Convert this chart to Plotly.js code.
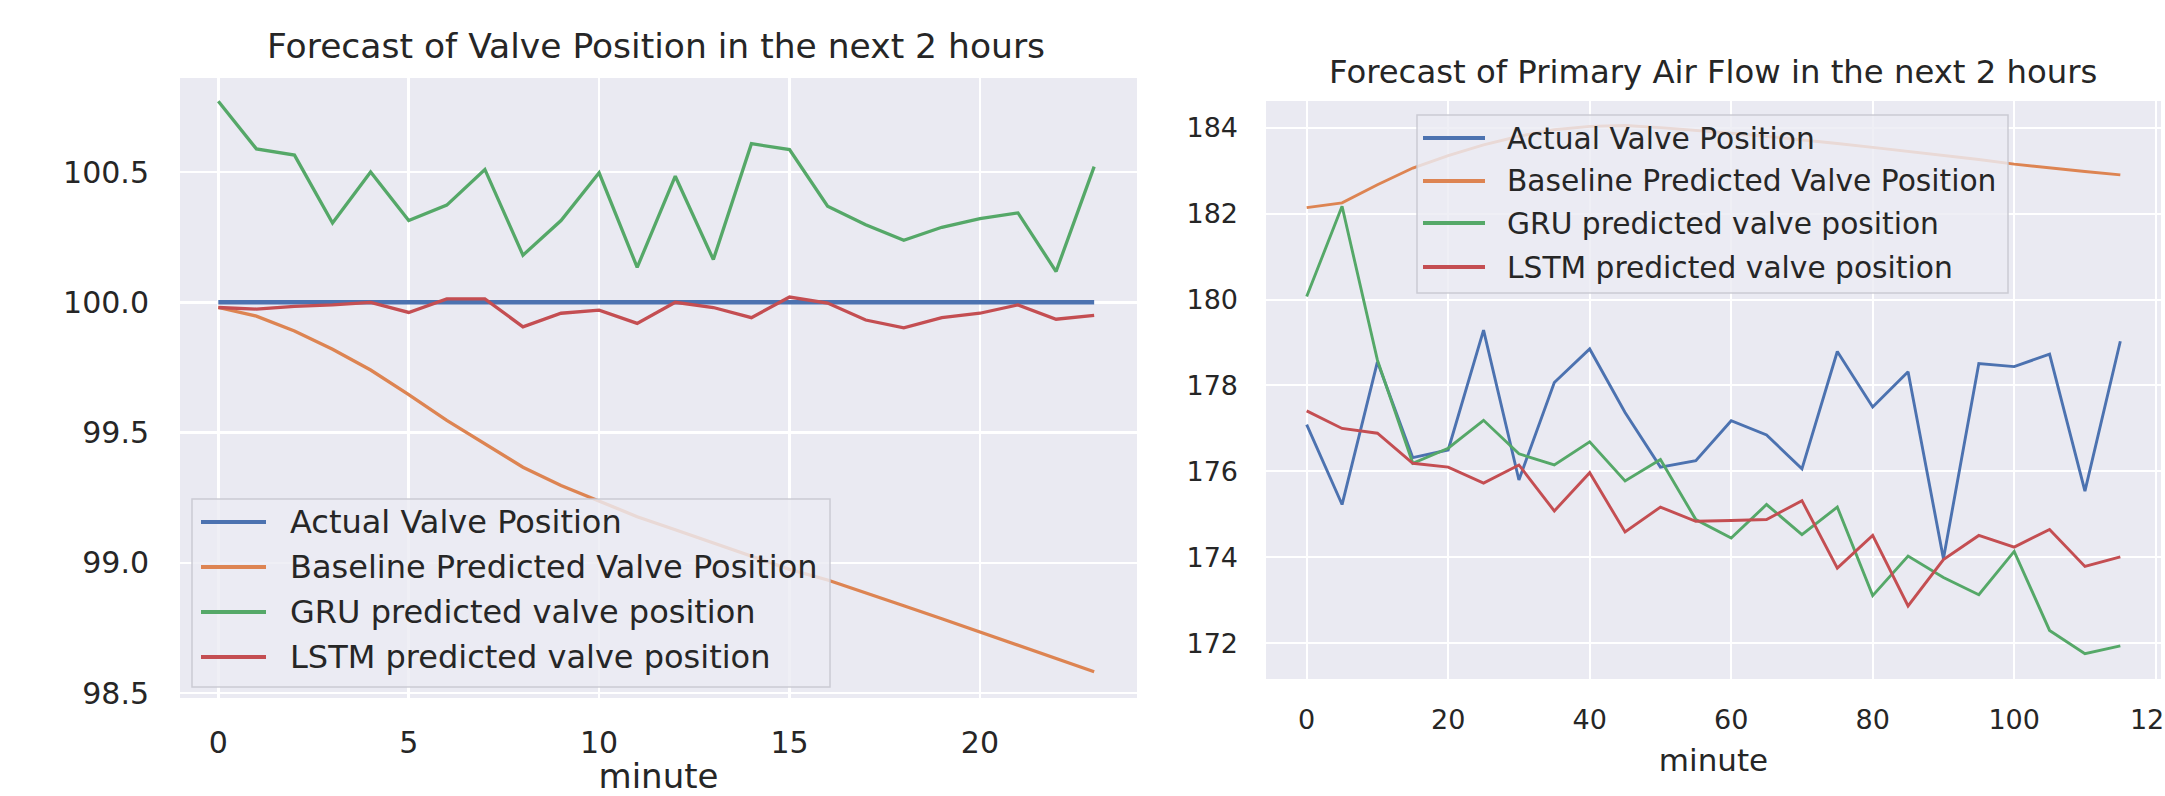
<!DOCTYPE html>
<html>
<head>
<meta charset="utf-8">
<script src="https://cdn.plot.ly/plotly-3.0.1.min.js"></script>
<style>
  html, body { margin: 0; padding: 0; background: #ffffff; }
  #chart { width: 2165px; height: 796px; }
</style>
</head>
<body>
<div id="chart"></div>
<script>
// ---------------- DATA ----------------
const seriesNames = [
  "Actual Valve Position",
  "Baseline Predicted Valve Position",
  "GRU predicted valve position",
  "LSTM predicted valve position"
];
const seriesColors = ["#4c72b0", "#dd8452", "#55a868", "#c44e52"];

const titleValve = "Forecast of Valve Position in the next 2 hours";
const titleAir = "Forecast of Primary Air Flow in the next 2 hours";
const xAxisLabel = "minute";

// Left panel: valve position, one point per minute
const minutesValve = [0,1,2,3,4,5,6,7,8,9,10,11,12,13,14,15,16,17,18,19,20,21,22,23];
const valveActual = [100.0,100.0,100.0,100.0,100.0,100.0,100.0,100.0,100.0,100.0,100.0,100.0,
                     100.0,100.0,100.0,100.0,100.0,100.0,100.0,100.0,100.0,100.0,100.0,100.0];
const valveBaseline = [99.98,99.947,99.89,99.82,99.74,99.646,99.547,99.456,99.367,99.297,99.238,99.177,
                       99.127,99.076,99.025,98.975,98.934,98.886,98.835,98.785,98.734,98.684,98.635,98.582];
const valveGRU = [100.772,100.589,100.565,100.304,100.500,100.314,100.373,100.510,100.181,100.314,100.497,100.134,
                  100.484,100.164,100.609,100.586,100.369,100.298,100.238,100.288,100.321,100.343,100.118,100.521];
const valveLSTM = [99.98,99.974,99.984,99.99,100.0,99.961,100.013,100.013,99.906,99.958,99.97,99.919,
                   100.0,99.98,99.941,100.02,99.997,99.932,99.902,99.941,99.958,99.99,99.935,99.95];

// Right panel: primary air flow, one point every 5 minutes
const minutesAir = [0,5,10,15,20,25,30,35,40,45,50,55,60,65,70,75,80,85,90,95,100,105,110,115];
const airActual = [177.09,175.23,178.55,176.32,176.50,179.29,175.80,178.07,178.85,177.37,176.10,176.25,
                   177.18,176.85,176.06,178.79,177.50,178.32,173.97,178.51,178.44,178.73,175.54,179.03];
const airBaseline = [182.14,182.25,182.67,183.06,183.35,183.60,183.80,183.95,184.03,184.05,184.00,183.94,
                     183.87,183.80,183.72,183.63,183.54,183.45,183.36,183.26,183.15,183.06,182.98,182.90];
const airGRU = [180.07,182.17,178.59,176.19,176.54,177.19,176.41,176.15,176.69,175.78,176.28,174.88,
                174.45,175.23,174.53,175.17,173.11,174.03,173.53,173.13,174.14,172.30,171.76,171.94];
const airLSTM = [177.41,177.00,176.89,176.19,176.10,175.73,176.15,175.08,175.97,174.59,175.17,174.84,
                 174.86,174.88,175.32,173.75,174.51,172.87,173.95,174.51,174.24,174.65,173.79,174.01];

const valveTicksX = [0,5,10,15,20];
const valveTicksY = [98.5,99.0,99.5,100.0,100.5];
const airTicksX = [0,20,40,60,80,100,120];
const airTicksY = [172,174,176,178,180,182,184];

// ---------------- LAYOUT HELPERS ----------------
const W = 2165, H = 796;
const PX = p => p / W;
const PY = p => 1 - p / H;
const FONT = "DejaVu Sans, Verdana, sans-serif";
const TXT = "#262626";

const valveSeries = [valveActual, valveBaseline, valveGRU, valveLSTM];
const airSeries = [airActual, airBaseline, airGRU, airLSTM];
const valveWidths = [4.5, 3.3, 3.3, 3.3];

const traces = [];
valveSeries.forEach((ys, k) => traces.push({
  type: "scatter", mode: "lines", x: minutesValve, y: ys, name: seriesNames[k],
  xaxis: "x", yaxis: "y", showlegend: false,
  line: { color: seriesColors[k], width: valveWidths[k] }
}));
airSeries.forEach((ys, k) => traces.push({
  type: "scatter", mode: "lines", x: minutesAir, y: ys, name: seriesNames[k],
  xaxis: "x2", yaxis: "y2", showlegend: false,
  line: { color: seriesColors[k], width: 2.9 }
}));

// Legend boxes drawn as shapes + text annotations
function legendBox(box, lineX0, lineX1, textX, rowsY, fontSize, lineW) {
  const shapes = [{
    type: "rect", xref: "paper", yref: "paper", layer: "above",
    x0: PX(box[0]), x1: PX(box[1]), y0: PY(box[3]), y1: PY(box[2]),
    fillcolor: "rgba(236,236,243,0.82)", line: { color: "rgba(200,200,208,0.9)", width: 1.5 }
  }];
  const anns = [];
  seriesNames.forEach((nm, k) => {
    shapes.push({
      type: "line", xref: "paper", yref: "paper", layer: "above",
      x0: PX(lineX0), x1: PX(lineX1), y0: PY(rowsY[k]), y1: PY(rowsY[k]),
      line: { color: seriesColors[k], width: lineW }
    });
    anns.push({
      xref: "paper", yref: "paper", x: PX(textX), y: PY(rowsY[k]),
      xanchor: "left", yanchor: "middle", showarrow: false, text: nm,
      font: { family: FONT, size: fontSize, color: TXT }
    });
  });
  return { shapes, anns };
}

const legL = legendBox([192, 830, 499, 687], 201, 266, 288, [522, 567, 612, 657], 32, 4);
const legR = legendBox([1417, 2008, 115, 293], 1423, 1485, 1505, [138, 181, 223, 267], 29.7, 4);

const layout = {
  width: W, height: H,
  margin: { l: 0, r: 0, t: 0, b: 0, pad: 0 },
  paper_bgcolor: "#ffffff",
  plot_bgcolor: "#eaeaf2",
  font: { family: FONT, color: TXT },
  showlegend: false,
  xaxis: {
    domain: [PX(180), PX(1137)], range: [-1.006, 24.125], anchor: "y",
    tickvals: valveTicksX, ticktext: valveTicksX.map(String),
    showgrid: true, gridcolor: "#ffffff", gridwidth: 2.5, zeroline: false, showline: false,
    ticks: "", ticklabelstandoff: 24,
    tickfont: { family: FONT, size: 30, color: TXT },
    title: { text: xAxisLabel, font: { family: FONT, size: 34, color: TXT }, standoff: 24 },
    automargin: false, fixedrange: true
  },
  yaxis: {
    domain: [PY(698), PY(78)], range: [98.481, 100.861], anchor: "x",
    tickvals: valveTicksY, ticktext: valveTicksY.map(v => v.toFixed(1)),
    showgrid: true, gridcolor: "#ffffff", gridwidth: 2.5, zeroline: false, showline: false,
    ticks: "", ticklabelstandoff: 30,
    tickfont: { family: FONT, size: 30, color: TXT },
    automargin: false, fixedrange: true
  },
  xaxis2: {
    domain: [PX(1266), PX(2161)], range: [-5.75, 120.75], anchor: "y2",
    tickvals: airTicksX, ticktext: airTicksX.map(String),
    showgrid: true, gridcolor: "#ffffff", gridwidth: 2, zeroline: false, showline: false,
    ticks: "", ticklabelstandoff: 22, ticklabeloverflow: "allow",
    tickfont: { family: FONT, size: 27, color: TXT },
    title: { text: xAxisLabel, font: { family: FONT, size: 31, color: TXT }, standoff: 15 },
    automargin: false, fixedrange: true
  },
  yaxis2: {
    domain: [PY(679), PY(101)], range: [171.17, 184.62], anchor: "x2",
    tickvals: airTicksY, ticktext: airTicksY.map(String),
    showgrid: true, gridcolor: "#ffffff", gridwidth: 2, zeroline: false, showline: false,
    ticks: "", ticklabelstandoff: 27,
    tickfont: { family: FONT, size: 27, color: TXT },
    automargin: false, fixedrange: true
  },
  shapes: legL.shapes.concat(legR.shapes),
  annotations: [
    { xref: "paper", yref: "paper", x: PX(656), y: PY(46), xanchor: "center", yanchor: "middle",
      showarrow: false, text: titleValve, font: { family: FONT, size: 34.5, color: TXT } },
    { xref: "paper", yref: "paper", x: PX(1713), y: PY(72), xanchor: "center", yanchor: "middle",
      showarrow: false, text: titleAir, font: { family: FONT, size: 32.3, color: TXT } }
  ].concat(legL.anns, legR.anns)
};

Plotly.newPlot("chart", traces, layout, { displayModeBar: false, staticPlot: true });
</script>
</body>
</html>
